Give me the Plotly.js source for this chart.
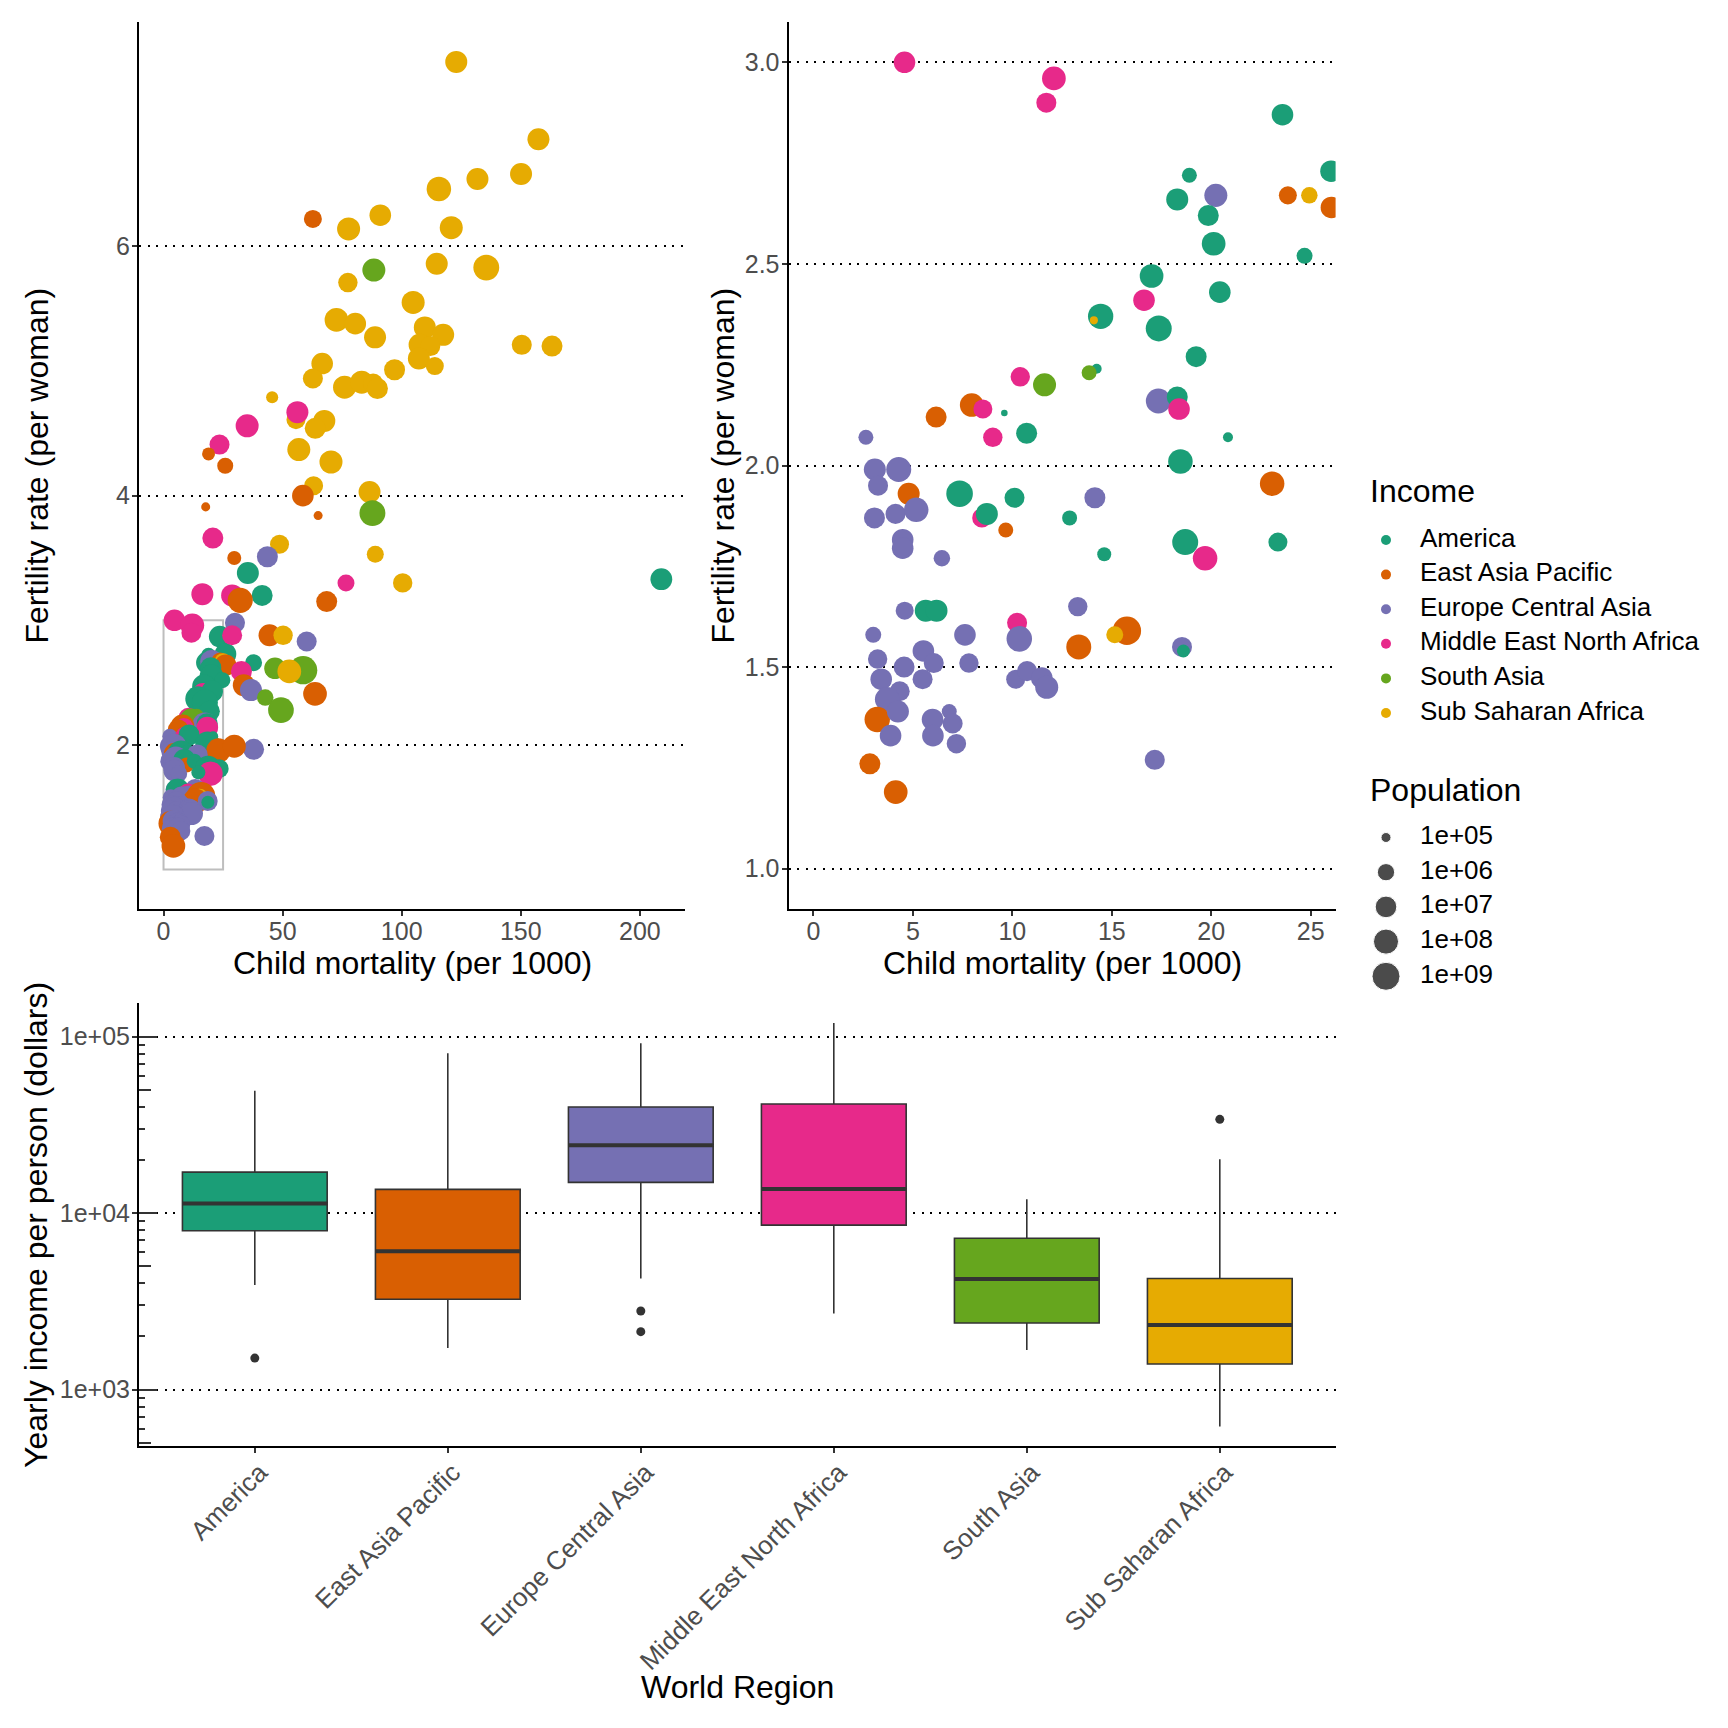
<!DOCTYPE html>
<html><head><meta charset="utf-8">
<script src="https://cdn.plot.ly/plotly-3.0.1.min.js"></script>
<style>html,body{margin:0;padding:0;background:#fff}#chart{width:1728px;height:1728px}</style>
</head><body><div id="chart"></div><script>
// ---------------- DATA ----------------
const regions = ["America","East Asia Pacific","Europe Central Asia","Middle East North Africa","South Asia","Sub Saharan Africa"];

// region index per country (0..5 into regions)
const ptRegion = [
 3,3,3,0,0,0,0,2,1,5,1,0,0,0,0,3,0,0,5,0,0,0,4,3,4,2,0,3,1,3,1,0,2,3,0,0,0,2,2,1,
 2,1,0,0,2,2,2,2,3,0,1,0,0,0,3,0,2,2,2,2,2,0,0,3,2,2,2,1,5,1,2,0,2,2,2,2,2,2,2,2,
 2,2,2,2,2,1,2,2,2,2,2,2,2,2,1,1,
 5,5,5,5,5,1,5,5,5,5,5,4,5,5,5,5,5,5,5,5,5,5,5,5,5,5,5,5,5,5,5,5,5,3,5,3,5,5,5,5,
 3,1,1,5,1,5,4,1,1,3,5,1,2,5,0,3,5,0,3,0,3,1,1,2,3,1,5,2,0,4,4,5,3,1,2,4,4,1,2,1
];
// child mortality (per 1000)
const childMortality = [
 4.58,12.09,11.71,23.58,18.9,26.02,18.29,20.23,23.85,24.93,26.04,19.85,20.12,24.69,17.0,16.62,20.43,14.44,14.1,17.36,19.24,14.24,13.86,10.40,11.62,17.34,18.29,18.38,7.96,8.52,6.17,9.6,2.64,9.02,10.72,20.84,18.45,3.09,4.29,23.06,
 3.25,4.79,7.35,10.11,14.15,3.07,4.13,5.17,8.47,8.72,9.67,12.88,18.69,23.35,19.69,14.62,4.49,4.49,6.46,13.29,4.59,5.65,6.19,10.24,10.35,3.01,7.62,15.76,15.15,13.34,18.53,18.6,5.53,3.23,6.05,7.82,4.56,3.41,5.49,10.17,
 10.74,11.48,11.73,4.34,3.71,3.21,4.25,5.99,6.83,7.0,3.88,6.01,7.19,17.16,2.84,4.14,
 122.9,157.4,150.1,131.8,115.6,62.7,77.7,91.0,120.8,163.1,150.4,88.3,114.7,135.5,77.4,104.8,72.6,80.5,88.8,109.7,117.4,107.5,112.0,107.2,113.9,97.0,66.6,62.7,76.0,83.2,88.0,89.8,45.6,35.1,55.6,56.2,67.5,63.7,56.8,70.3,
 23.5,18.9,25.9,63.0,58.5,86.5,87.7,17.7,64.9,20.7,48.7,29.7,43.6,88.9,35.4,76.6,100.4,209.0,16.3,41.4,28.8,32.2,68.5,30.0,28.8,44.5,50.2,60.1,37.8,46.8,58.6,52.8,32.7,33.7,36.7,42.7,49.3,63.6,37.8,29.7
];
// fertility rate (per woman)
const fertility = [
 3.00,2.96,2.90,2.87,2.72,2.73,2.66,2.67,2.67,2.67,2.64,2.62,2.55,2.52,2.47,2.41,2.43,2.37,2.36,2.34,2.27,2.24,2.23,2.22,2.20,2.16,2.17,2.14,2.15,2.14,2.12,2.13,2.07,2.07,2.08,2.07,2.01,1.99,1.99,1.955,
 1.95,1.93,1.93,1.92,1.92,1.87,1.88,1.89,1.87,1.88,1.84,1.87,1.81,1.81,1.77,1.78,1.816,1.795,1.77,1.65,1.64,1.64,1.64,1.61,1.57,1.58,1.58,1.59,1.58,1.55,1.55,1.54,1.54,1.52,1.51,1.51,1.50,1.47,1.47,1.47,
 1.49,1.473,1.45,1.44,1.42,1.37,1.39,1.37,1.39,1.36,1.33,1.33,1.31,1.27,1.26,1.19,
 7.48,6.86,6.58,6.54,6.46,6.22,6.14,6.25,6.15,5.20,5.21,5.81,5.86,5.83,5.71,5.55,5.41,5.38,5.27,5.35,5.29,5.21,5.20,5.10,5.04,5.01,5.06,4.94,4.87,4.91,4.90,4.86,4.79,4.56,4.61,4.67,4.60,4.54,4.37,4.27,
 4.41,4.335,4.24,4.08,4.00,4.03,3.86,3.91,3.84,3.66,3.61,3.50,3.51,3.53,3.38,3.30,3.30,3.33,3.21,3.20,3.20,3.16,3.15,2.98,2.88,2.88,2.88,2.83,2.66,2.615,2.60,2.59,2.59,2.48,2.44,2.38,2.28,2.41,1.965,1.99
];
// population
const population = [
 9.7e6,3.8e7,3.9e6,9.7e6,3.9e5,9.7e6,1.25e7,2.4e7,1.4e6,7.1e5,9.7e6,6.8e6,3.8e7,5.8e5,3.8e7,9.7e6,9.7e6,1.2e8,7.5e4,2.0e8,6.8e6,1.0e5,3.9e5,2.8e6,2.4e7,9.5e7,6.8e6,9.7e6,3.8e7,2.3e6,6.8e6,6.6e4,3.9e5,2.8e6,6.8e6,1.0e5,6.6e7,1.25e7,9.5e7,6.6e7,
 3.9e6,1.25e7,3.2e8,3.9e6,6.8e6,6.8e6,3.9e6,6.6e7,2.8e6,1.25e7,3.9e5,3.9e5,2.0e8,2.3e6,6.6e7,2.8e5,9.7e6,9.7e6,7.1e5,2.8e6,1.4e6,1.25e7,1.25e7,3.9e6,1.4e8,5.8e5,9.7e6,1.37e9,8.8e5,9.5e7,3.9e6,2.0e5,9.7e6,2.8e6,3.9e6,2.8e6,6.8e6,9.7e6,3.9e6,2.3e6,
 3.9e6,9.7e6,2.4e7,3.9e6,6.8e7,1.27e8,1.25e7,9.7e6,3.9e5,3.9e6,9.7e6,9.7e6,2.8e6,3.9e6,6.8e6,3.8e7,
 1.25e7,1.25e7,1.25e7,1.25e7,6.6e7,1.4e6,2.4e7,9.7e6,2.4e7,6.8e6,3.9e6,2.4e7,1.25e7,1.8e8,2.8e6,2.4e7,3.8e7,9.7e6,1.25e7,1.25e7,1.25e7,1.25e7,3.9e6,1.25e7,1.4e6,6.8e6,9.7e6,3.9e6,2.4e7,2.4e7,3.9e6,6.8e6,1.6e5,2.4e7,2.3e6,1.25e7,1.25e7,6.8e6,2.4e7,2.4e7,
 3.9e6,2.0e5,5.8e5,2.3e6,9.7e6,1.25e7,1.9e8,8.5e4,8.5e4,6.8e6,2.3e6,2.8e5,6.8e6,8.8e5,1.25e7,8.8e5,2.8e6,1.1e7,1.25e7,6.8e6,1.25e7,1.0e8,6.8e6,3.9e6,3.9e6,1.25e7,2.8e6,3.9e6,8.8e5,9.7e6,1.3e9,3.8e7,6.8e6,1.25e7,1.25e7,7.1e5,1.6e8,3.8e7,6.8e6,2.4e7
];

// zoom window shown on the right panel
const zoomMortality = [0, 25];
const zoomFertility = [1, 3];

// yearly income per person (dollars) box statistics per region
const incomeLowerWhisker = [3913, 1718, 4255, 2693, 1673, 618];
const incomeQ1           = [7930, 3246, 14920, 8537, 2381, 1394];
const incomeMedian       = [11340, 6080, 24180, 13660, 4233, 2320];
const incomeQ3           = [17060, 13610, 39900, 41500, 7203, 4255];
const incomeUpperWhisker = [49370, 80500, 91700, 119200, 11950, 20150];
const outlierRegion = ["America","Europe Central Asia","Europe Central Asia","Sub Saharan Africa"];
const outlierIncome = [1507, 2786, 2128, 33960];

// population legend breaks
const popBreaks = [1e5, 1e6, 1e7, 1e8, 1e9];
const popBreakLabels = ["1e+05","1e+06","1e+07","1e+08","1e+09"];

// axis ticks
const leftXTicks = [0, 50, 100, 150, 200];
const leftYTicks = [2, 4, 6];
const rightXTicks = [0, 5, 10, 15, 20, 25];
const rightYTicks = [1.0, 1.5, 2.0, 2.5, 3.0];
const incomeTicks = [1e3, 1e4, 1e5];
const incomeTickText = ["1e+03","1e+04","1e+05"];
const logDecades = [100, 1000, 10000, 100000];

// ---------------- STYLE ----------------
const regionColors = ["#1B9E77","#D95F02","#7570B3","#E7298A","#66A61E","#E6AB02"];
const W = 1728;
const FONT = "Liberation Sans, Arial, Helvetica, sans-serif";
function sizeOf(p){ const t = Math.min(1, Math.max(0, (Math.log10(p) - 4.8) / 4.35)); return 4.98 + 23.43 * Math.sqrt(t); }
const fx = px => px / W;
const fy = py => 1 - py / W;

const colors = ptRegion.map(i => regionColors[i]);
const sizes = population.map(sizeOf);

const traces = [];
traces.push({type:'scatter', mode:'markers', xaxis:'x', yaxis:'y', x:childMortality, y:fertility,
  marker:{color:colors, size:sizes, sizemode:'diameter', line:{width:0}, opacity:1}, hoverinfo:'skip', showlegend:false});
traces.push({type:'scatter', mode:'markers', xaxis:'x2', yaxis:'y2', x:childMortality, y:fertility,
  marker:{color:colors, size:sizes, sizemode:'diameter', line:{width:0}, opacity:1}, hoverinfo:'skip', showlegend:false});

regions.forEach((r, i) => {
  traces.push({type:'box', xaxis:'x3', yaxis:'y3', x:[r], q1:[incomeQ1[i]], median:[incomeMedian[i]], q3:[incomeQ3[i]],
    lowerfence:[incomeLowerWhisker[i]], upperfence:[incomeUpperWhisker[i]], fillcolor:regionColors[i],
    line:{color:'#333333', width:1.6}, width:0.75, whiskerwidth:0, boxpoints:false, showlegend:false, hoverinfo:'skip'});
});
traces.push({type:'box', xaxis:'x3', yaxis:'y3', x:regions, q1:incomeMedian, median:incomeMedian, q3:incomeMedian,
  lowerfence:incomeMedian, upperfence:incomeMedian, fillcolor:'rgba(0,0,0,0)', line:{color:'#333333', width:4},
  width:0.75, whiskerwidth:0, boxpoints:false, showlegend:false, hoverinfo:'skip'});
traces.push({type:'scatter', mode:'markers', xaxis:'x3', yaxis:'y3', x:outlierRegion, y:outlierIncome,
  marker:{color:'#333333', size:9}, showlegend:false, hoverinfo:'skip'});
// empty trace so the log-tick overlay axis is built
traces.push({type:'scatter', mode:'markers', xaxis:'x3', yaxis:'y5', x:[], y:[], showlegend:false, hoverinfo:'skip'});

// manual legends (xaxis4/yaxis4 in page-pixel units)
const legDotX = 1386, legTextX = 1420;
const incY0 = 540, incStep = 34.6, popY0 = 837.5, popStep = 34.7;
traces.push({type:'scatter', mode:'markers', xaxis:'x4', yaxis:'y4', x:regions.map(() => legDotX), y:regions.map((_, i) => incY0 + i*incStep),
  marker:{color:regionColors, size:10}, cliponaxis:false, showlegend:false, hoverinfo:'skip'});
traces.push({type:'scatter', mode:'text', xaxis:'x4', yaxis:'y4', x:regions.map(() => legTextX), y:regions.map((_, i) => incY0 + i*incStep),
  text:regions, textposition:'middle right', textfont:{size:26, color:'#000', family:FONT}, cliponaxis:false, showlegend:false, hoverinfo:'skip'});
traces.push({type:'scatter', mode:'markers', xaxis:'x4', yaxis:'y4', x:popBreaks.map(() => legDotX), y:popBreaks.map((_, i) => popY0 + i*popStep),
  marker:{color:'#000', size:popBreaks.map(sizeOf)}, cliponaxis:false, showlegend:false, hoverinfo:'skip'});
traces.push({type:'scatter', mode:'text', xaxis:'x4', yaxis:'y4', x:popBreaks.map(() => legTextX), y:popBreaks.map((_, i) => popY0 + i*popStep),
  text:popBreakLabels, textposition:'middle right', textfont:{size:26, color:'#000', family:FONT}, cliponaxis:false, showlegend:false, hoverinfo:'skip'});

const axisBase = {showline:true, linecolor:'#000', linewidth:2, ticks:'outside', ticklen:5, tickwidth:2, tickcolor:'#333',
  tickfont:{size:25, color:'#4D4D4D', family:FONT}, zeroline:false, showgrid:false, fixedrange:true, automargin:false};
const xStand = {ticklabelstandoff:-6};
const yStand = {ticklabelstandoff:-3};
const yGrid = {showgrid:true, gridcolor:'#000', gridwidth:2, griddash:'2px,6.6px'};

const topDom = [fy(909), fy(22)];
const expand = (a, b, f) => [a - (b - a) * f, b + (b - a) * f];

const shortTicks = [], midTicks = [];
logDecades.forEach(d => { [2,3,4,6,7,8,9].forEach(k => shortTicks.push(d * k)); midTicks.push(d * 5); });

const layout = {
  width:W, height:W, margin:{l:0, r:0, t:0, b:0}, paper_bgcolor:'#fff', plot_bgcolor:'#fff',
  font:{family:FONT, color:'#000'}, showlegend:false, boxmode:'overlay',
  xaxis: Object.assign({}, axisBase, xStand, {domain:[fx(139), fx(685.4)], range:[-10.3, 219.1], tickvals:leftXTicks, anchor:'y'}),
  yaxis: Object.assign({}, axisBase, yStand, yGrid, {domain:topDom, range:[0.684, 7.80], tickvals:leftYTicks, anchor:'x'}),
  xaxis2: Object.assign({}, axisBase, xStand, {domain:[fx(788.5), fx(1335.6)], range:expand(zoomMortality[0], zoomMortality[1], 0.05), tickvals:rightXTicks, anchor:'y2'}),
  yaxis2: Object.assign({}, axisBase, yStand, yGrid, {domain:topDom, range:expand(zoomFertility[0], zoomFertility[1], 0.05), tickvals:rightYTicks, tickformat:'.1f', anchor:'x2'}),
  xaxis3: Object.assign({}, axisBase, xStand, {domain:[fx(139), fx(1335.6)], type:'category', categoryorder:'array', categoryarray:regions,
    range:[-0.6, regions.length - 0.4], tickangle:-45, ticklabelshift:5, tickfont:{size:26, color:'#4D4D4D', family:FONT}, anchor:'y3'}),
  yaxis3: Object.assign({}, axisBase, yStand, yGrid, {domain:[fy(1446), fy(1003)], type:'log', range:[2.68, 5.19],
    tickvals:incomeTicks, ticktext:incomeTickText, anchor:'x3',
    minor:{ticks:'inside', ticklen:6, tickwidth:2, tickcolor:'#333', tickvals:shortTicks, showgrid:false}}),
  yaxis5: {overlaying:'y3', anchor:'x3', side:'left', type:'log', range:[2.68, 5.19], tickvals:midTicks, ticks:'inside', ticklen:12,
    tickwidth:2, tickcolor:'#333', showticklabels:false, showgrid:false, showline:false, zeroline:false, fixedrange:true,
    minor:{tickvals:incomeTicks, ticks:'inside', ticklen:18, tickwidth:2, tickcolor:'#333', showgrid:false}},
  xaxis4: {domain:[fx(1336), 1], range:[1336, W], visible:false, fixedrange:true, anchor:'y4'},
  yaxis4: {domain:[0, 1], range:[W, 0], visible:false, fixedrange:true, anchor:'x4'},
  shapes: [{type:'rect', xref:'x', yref:'y', x0:zoomMortality[0], x1:zoomMortality[1], y0:zoomFertility[0], y1:zoomFertility[1],
    line:{color:'#BEBEBE', width:2}, fillcolor:'rgba(0,0,0,0)', layer:'between'}],
  annotations: [
    {text:'Fertility rate (per woman)', xref:'paper', yref:'paper', x:fx(36), y:fy(465.5), textangle:-90, showarrow:false, xanchor:'center', yanchor:'middle', font:{size:32}},
    {text:'Fertility rate (per woman)', xref:'paper', yref:'paper', x:fx(722), y:fy(465.5), textangle:-90, showarrow:false, xanchor:'center', yanchor:'middle', font:{size:32}},
    {text:'Child mortality (per 1000)', xref:'paper', yref:'paper', x:fx(412), y:fy(963), showarrow:false, xanchor:'center', yanchor:'middle', font:{size:32}},
    {text:'Child mortality (per 1000)', xref:'paper', yref:'paper', x:fx(1062), y:fy(963), showarrow:false, xanchor:'center', yanchor:'middle', font:{size:32}},
    {text:'Yearly income per person (dollars)', xref:'paper', yref:'paper', x:fx(36), y:fy(1225), textangle:-90, showarrow:false, xanchor:'center', yanchor:'middle', font:{size:32}},
    {text:'World Region', xref:'paper', yref:'paper', x:fx(737), y:fy(1687), showarrow:false, xanchor:'center', yanchor:'middle', font:{size:32}},
    {text:'Income', xref:'paper', yref:'paper', x:fx(1368), y:fy(491), showarrow:false, xanchor:'left', yanchor:'middle', font:{size:32}},
    {text:'Population', xref:'paper', yref:'paper', x:fx(1368), y:fy(790), showarrow:false, xanchor:'left', yanchor:'middle', font:{size:32}}
  ]
};

Plotly.newPlot('chart', traces, layout, {staticPlot:true});
</script></body></html>
